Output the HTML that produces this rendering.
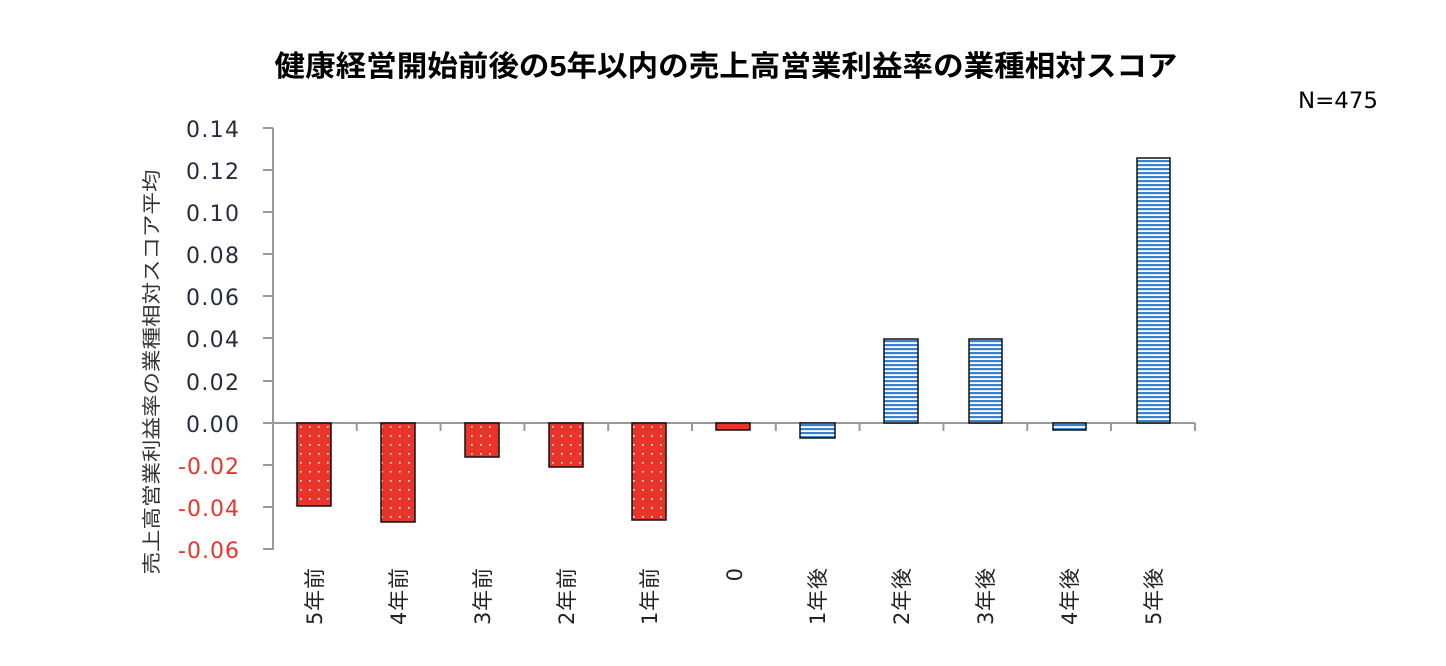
<!DOCTYPE html>
<html><head><meta charset="utf-8"><style>
html,body{margin:0;padding:0;background:#fff;}
svg{display:block;font-family:"DejaVu Sans","Noto Sans CJK JP",sans-serif;}
</style></head><body>
<svg width="1446" height="666" viewBox="0 0 1446 666">
<defs>
<pattern id="dots" width="9" height="9" patternUnits="userSpaceOnUse">
<rect width="9" height="9" fill="#e8342a"/>
<rect x="3" y="3" width="1.6" height="1.6" fill="#fff"/>
</pattern>
<pattern id="stripes" width="4" height="4" patternUnits="userSpaceOnUse">
<rect width="4" height="4" fill="#fff"/>
<rect width="4" height="2.2" fill="#3a82cc"/>
</pattern>
</defs>
<text x="726" y="76" font-size="29" font-weight="bold" text-anchor="middle" textLength="903" lengthAdjust="spacingAndGlyphs" font-family="Liberation Sans, Noto Sans CJK JP, sans-serif">健康経営開始前後の5年以内の売上高営業利益率の業種相対スコア</text>
<text x="1378" y="108" font-size="22" text-anchor="end" textLength="80" lengthAdjust="spacingAndGlyphs">N=475</text>
<text transform="translate(158,372) rotate(-90)" font-size="19" text-anchor="middle" fill="#333" textLength="405" lengthAdjust="spacingAndGlyphs">売上高営業利益率の業種相対スコア平均</text>
<g font-size="22" text-anchor="end" fill="#2a2a40" lengthAdjust="spacingAndGlyphs">
<text x="239" y="137" textLength="53">0.14</text>
<text x="239" y="179" textLength="53">0.12</text>
<text x="239" y="221" textLength="53">0.10</text>
<text x="239" y="263" textLength="53">0.08</text>
<text x="239" y="305" textLength="53">0.06</text>
<text x="239" y="347" textLength="53">0.04</text>
<text x="239" y="390" textLength="53">0.02</text>
<text x="239" y="432" textLength="53">0.00</text>
<text x="239" y="474" fill="#e8342a" textLength="61">-0.02</text>
<text x="239" y="516" fill="#e8342a" textLength="61">-0.04</text>
<text x="239" y="558" fill="#e8342a" textLength="61">-0.06</text>
</g>
<g stroke="#999" stroke-width="2" fill="none">
<line x1="273" y1="128" x2="273" y2="550"/>
<line x1="263" y1="128" x2="273" y2="128"/>
<line x1="263" y1="170" x2="273" y2="170"/>
<line x1="263" y1="212" x2="273" y2="212"/>
<line x1="263" y1="254" x2="273" y2="254"/>
<line x1="263" y1="296" x2="273" y2="296"/>
<line x1="263" y1="338" x2="273" y2="338"/>
<line x1="263" y1="381" x2="273" y2="381"/>
<line x1="263" y1="423" x2="273" y2="423"/>
<line x1="263" y1="465" x2="273" y2="465"/>
<line x1="263" y1="507" x2="273" y2="507"/>
<line x1="263" y1="549" x2="273" y2="549"/>
<line x1="273" y1="423" x2="1195" y2="423"/>
<line x1="356.8" y1="423" x2="356.8" y2="431"/>
<line x1="440.6" y1="423" x2="440.6" y2="431"/>
<line x1="524.4" y1="423" x2="524.4" y2="431"/>
<line x1="608.2" y1="423" x2="608.2" y2="431"/>
<line x1="692" y1="423" x2="692" y2="431"/>
<line x1="775.8" y1="423" x2="775.8" y2="431"/>
<line x1="859.6" y1="423" x2="859.6" y2="431"/>
<line x1="943.4" y1="423" x2="943.4" y2="431"/>
<line x1="1027.2" y1="423" x2="1027.2" y2="431"/>
<line x1="1111" y1="423" x2="1111" y2="431"/>
<line x1="1195" y1="423" x2="1195" y2="431"/>
</g>
<g stroke="#111" stroke-width="1.5">
<rect x="297" y="423" width="34" height="83" fill="url(#dots)"/>
<rect x="381" y="423" width="34" height="99" fill="url(#dots)"/>
<rect x="465" y="423" width="34" height="34" fill="url(#dots)"/>
<rect x="549" y="423" width="34" height="44" fill="url(#dots)"/>
<rect x="632" y="423" width="34" height="97" fill="url(#dots)"/>
<rect x="716" y="423" width="34" height="7" fill="#e8342a"/>
<rect x="800" y="423" width="35" height="15" fill="url(#stripes)"/>
<rect x="884" y="339" width="34" height="84" fill="url(#stripes)"/>
<rect x="969" y="339" width="33" height="84" fill="url(#stripes)"/>
<rect x="1053" y="423" width="33" height="7" fill="url(#stripes)"/>
<rect x="1137" y="158" width="33" height="265" fill="url(#stripes)"/>
</g>
<g font-size="21" text-anchor="end" fill="#222" lengthAdjust="spacingAndGlyphs">
<text transform="translate(322,568) rotate(-90)" textLength="57">5年前</text>
<text transform="translate(406,568) rotate(-90)" textLength="57">4年前</text>
<text transform="translate(490,568) rotate(-90)" textLength="57">3年前</text>
<text transform="translate(574,568) rotate(-90)" textLength="57">2年前</text>
<text transform="translate(657,568) rotate(-90)" textLength="57">1年前</text>
<text transform="translate(742,568) rotate(-90)" textLength="13">0</text>
<text transform="translate(825,568) rotate(-90)" textLength="57">1年後</text>
<text transform="translate(909,568) rotate(-90)" textLength="57">2年後</text>
<text transform="translate(993,568) rotate(-90)" textLength="57">3年後</text>
<text transform="translate(1077,568) rotate(-90)" textLength="57">4年後</text>
<text transform="translate(1161,568) rotate(-90)" textLength="57">5年後</text>
</g>
</svg>
</body></html>
